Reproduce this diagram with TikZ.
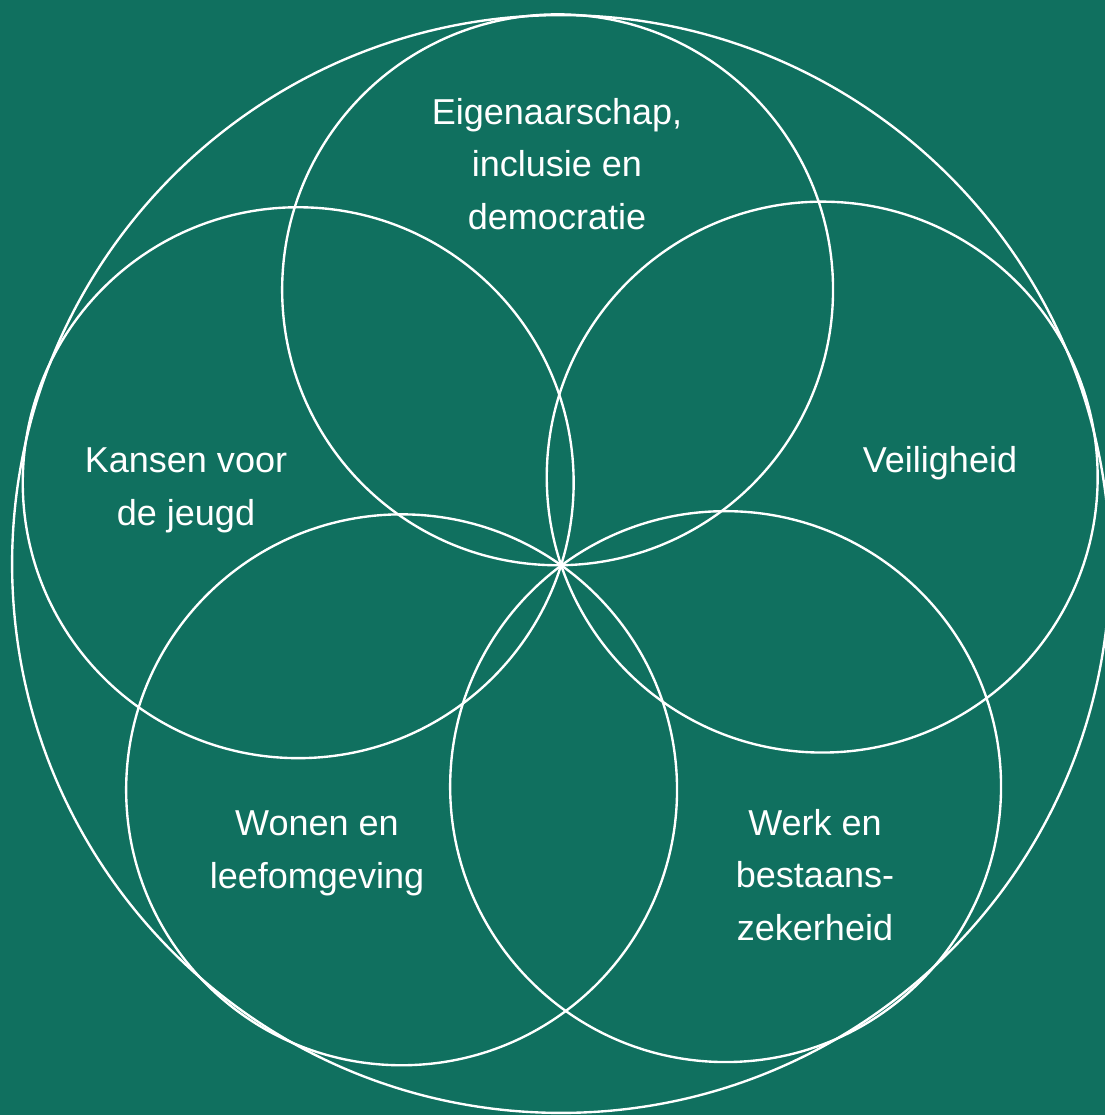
\documentclass[tikz,border=0pt]{standalone}
\usepackage{fontspec}
\setmainfont{Liberation Sans}
\definecolor{bggreen}{RGB}{16,112,95}
\begin{document}
\begin{tikzpicture}[x=0.02cm,y=-0.02cm,
  ring/.style={draw=white,line width=1.35pt},
  label/.style={text=white,align=center,font=\fontsize{20.5}{30}\selectfont,inner sep=0pt}]
\fill[bggreen] (0,0) rectangle (1105,1115);
\useasboundingbox (0,0) rectangle (1105,1115);
% centres
\coordinate (hub) at (561,565);
\coordinate (ctop) at (557.6,289.8);
\coordinate (cleft) at (298.2,482.7);
\coordinate (cright) at (822.2,477.1);
\coordinate (cbl) at (401.6,789.8);
\coordinate (cbr) at (725.6,786.6);
\coordinate (couter) at (561,564);
% circles
\draw[ring] (couter) circle[radius=10.98cm];
\draw[ring] (ctop) circle[radius=5.51cm];
\draw[ring] (cleft) circle[radius=5.51cm];
\draw[ring] (cright) circle[radius=5.51cm];
\draw[ring] (cbl) circle[radius=5.51cm];
\draw[ring] (cbr) circle[radius=5.51cm];
% labels
\node[label] (eig) at (557,164) {Eigenaarschap,\\inclusie en\\democratie};
\node[label] (kan) at (186,490) {Kansen voor\\de jeugd};
\node[label] (vei) at (940,463) {Veiligheid};
\node[label] (won) at (317,853) {Wonen en\\leefomgeving};
\node[label] (wer) at (815,875) {Werk en\\bestaans-\\zekerheid};
\end{tikzpicture}
\end{document}
